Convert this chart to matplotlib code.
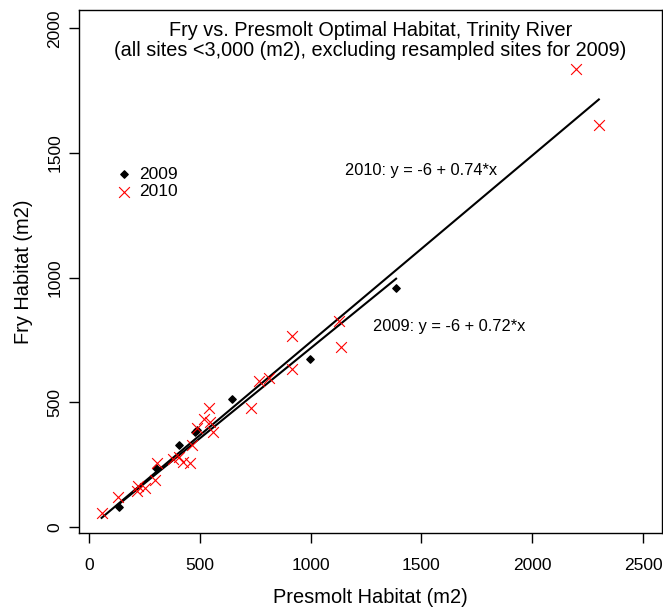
import numpy as np
import matplotlib
matplotlib.use('Agg')
import matplotlib.pyplot as plt

# data
x2009 = [135, 303, 407, 478, 486, 644, 999, 1386]
y2009 = [81, 238, 330, 380, 389, 512, 675, 957]

x2010 = [57, 132, 215, 220, 255, 298, 305, 380, 405, 425, 455, 463, 486,
         520, 543, 546, 561, 731, 768, 814, 917, 917, 1128, 1137, 2198, 2301]
y2010 = [57, 119, 145, 166, 155, 189, 256, 272, 280, 262, 255, 329, 398,
         433, 476, 422, 382, 476, 587, 599, 767, 632, 827, 723, 1837, 1612]

# fitted lines (intercept, slope)
fit2009 = (-6, 0.723)
fit2010 = (-6, 0.748)
lab2009 = '2009: y = -6 + 0.72*x'
lab2010 = '2010: y = -6 + 0.74*x'

title1 = 'Fry vs. Presmolt Optimal Habitat, Trinity River'
title2 = '(all sites <3,000 (m2), excluding resampled sites for 2009)'

xticks = [0, 500, 1000, 1500, 2000, 2500]
yticks = [0, 500, 1000, 1500, 2000]

plt.rcParams['font.family'] = ['Liberation Sans', 'DejaVu Sans']
fs = 12.5

fig = plt.figure(figsize=(6.63, 6.10), dpi=100)
ax = fig.add_axes([79/663, 77/610, 583/663, 523.5/610])

ax.scatter(x2009, y2009, marker='D', s=14, color='black', zorder=3, label='2009')
ax.scatter(x2010, y2010, marker='x', s=60, color='red', linewidths=0.8,
           zorder=3, label='2010')

for xs, (a, b) in [(x2009, fit2009), (x2010, fit2010)]:
    xl = np.array([min(xs), max(xs)])
    ax.plot(xl, a + b*xl, color='black', lw=1.5, zorder=2)

ax.set_xlim(-45, 2586)
ax.set_ylim(-24, 2076)
ax.set_xticks(xticks)
ax.set_yticks(yticks)
ax.tick_params(direction='out', length=7, width=1, labelsize=fs)
ax.tick_params(axis='x', pad=11)
ax.tick_params(axis='y', pad=5)
for lab in ax.get_yticklabels():
    lab.set_rotation(90)
    lab.set_va('center')
for s in ax.spines.values():
    s.set_linewidth(1)

ax.set_xlabel('Presmolt Habitat (m2)', fontsize=14.4, labelpad=11)
ax.set_ylabel('Fry Habitat (m2)', fontsize=14.4, labelpad=10)

ax.text(0.5, (533-30)/523.5, title1, transform=ax.transAxes,
        ha='center', va='center', fontsize=14.3)
ax.text(0.5, (533-51)/523.5, title2, transform=ax.transAxes,
        ha='center', va='center', fontsize=14.3)
ax.text(1498, 1432, lab2010, ha='center', va='center', fontsize=11.8)
ax.text(1625, 806, lab2009, ha='center', va='center', fontsize=11.8)

ax.legend(loc='upper left', bbox_to_anchor=(0.065, 0.70), frameon=False,
          fontsize=fs, handlelength=0.8, handletextpad=0.5, labelspacing=0.15,
          borderpad=0, borderaxespad=0, scatterpoints=1)

fig.savefig('out.png', dpi=100)
